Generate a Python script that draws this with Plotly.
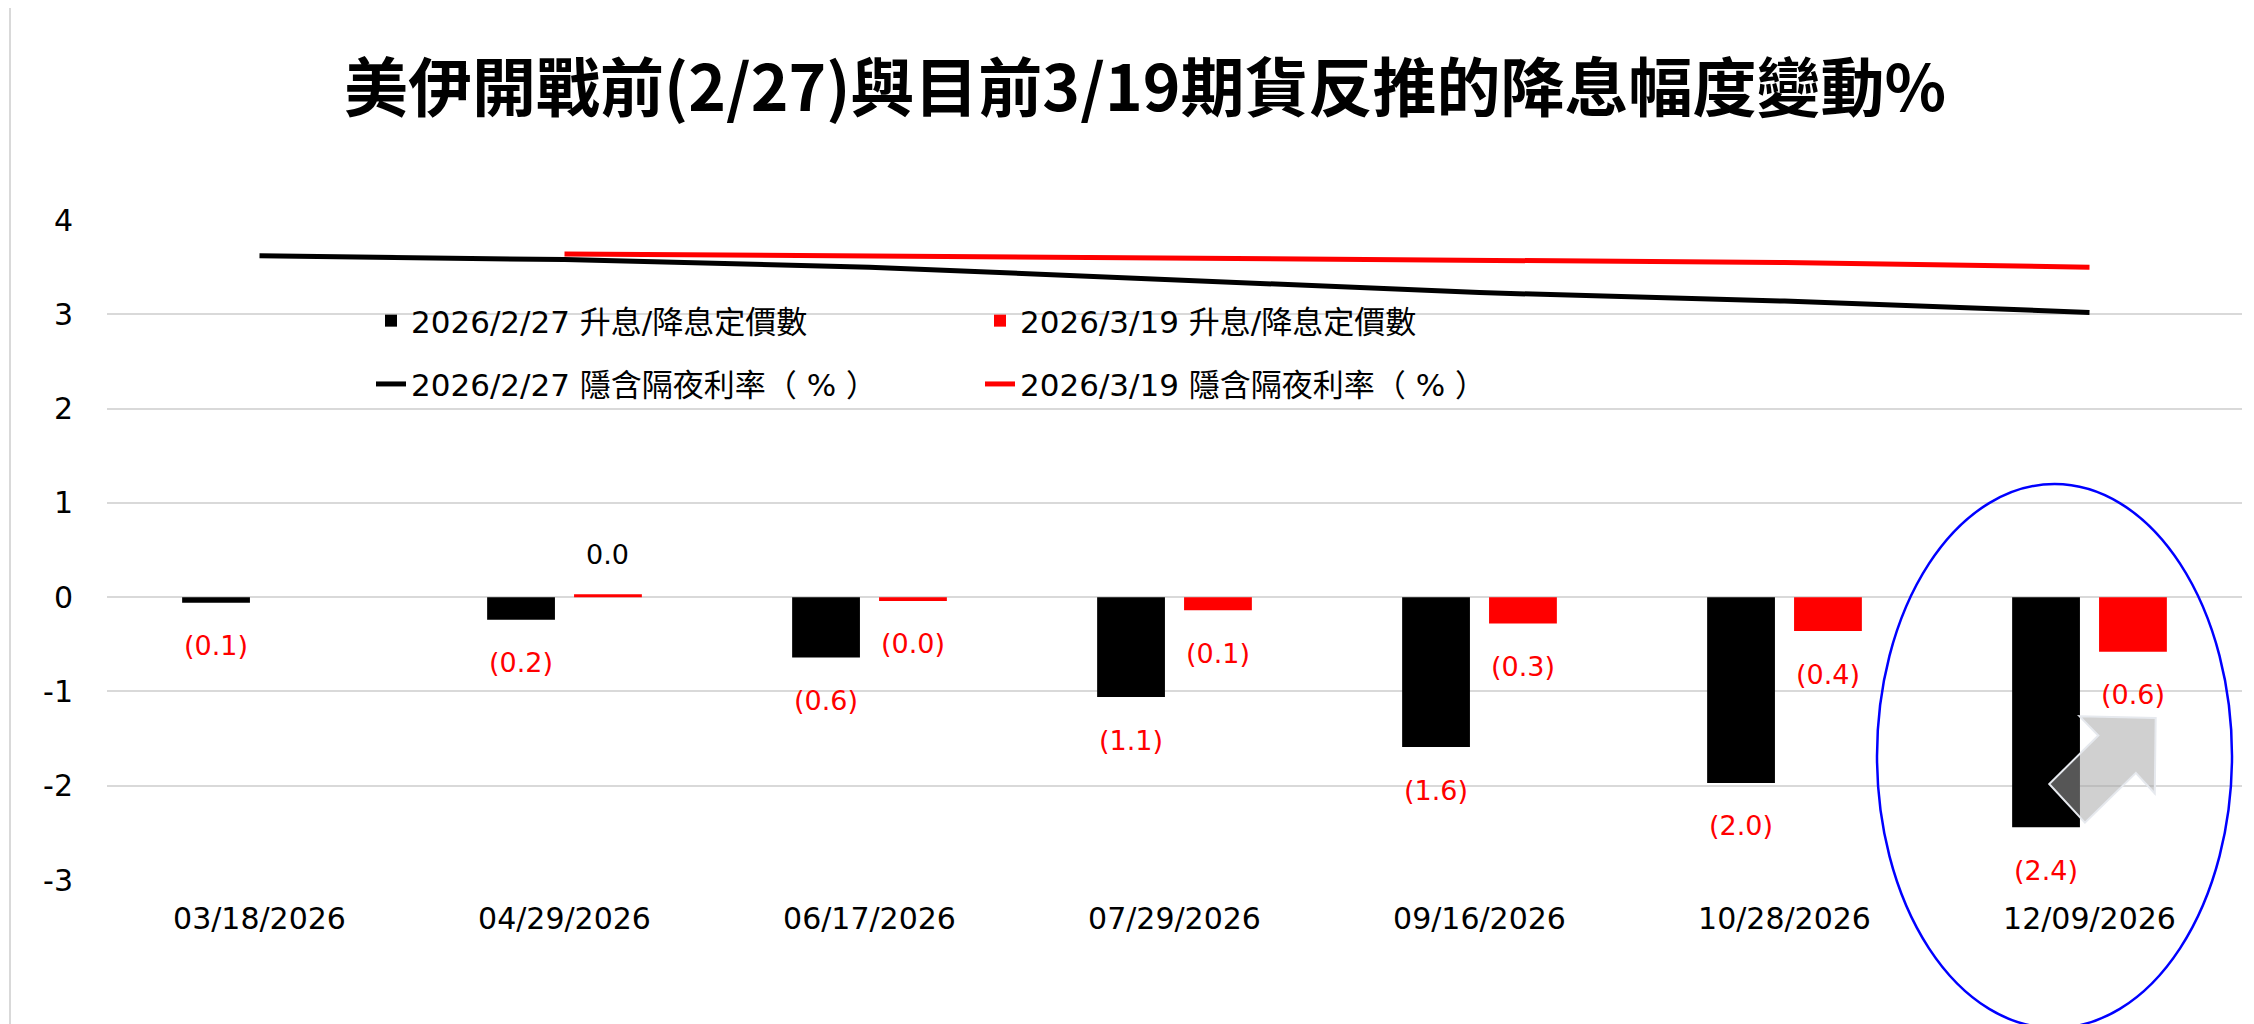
import plotly.graph_objects as go

# ---------------- data ----------------
categories = ["03/18/2026", "04/29/2026", "06/17/2026", "07/29/2026",
              "09/16/2026", "10/28/2026", "12/09/2026"]
bars_0227 = [-0.06, -0.24, -0.64, -1.06, -1.59, -1.97, -2.44]
bars_0319 = [None, 0.03, -0.04, -0.14, -0.28, -0.36, -0.58]
rate_0227 = [3.62, 3.58, 3.50, 3.37, 3.23, 3.14, 3.02]
rate_0319 = [None, 3.64, 3.62, 3.60, 3.57, 3.55, 3.50]
y_tick_vals = [4, 3, 2, 1, 0, -1, -2, -3]
y_tick_labels = ["4", "3", "2", "1", "0", "-1", "-2", "-3"]

title_text = "美伊開戰前(2/27)與目前3/19期貨反推的降息幅度變動%"
name_bar_0227 = "2026/2/27 升息/降息定價數"
name_bar_0319 = "2026/3/19 升息/降息定價數"
name_line_0227 = "2026/2/27 隱含隔夜利率（ % ）"
name_line_0319 = "2026/3/19 隱含隔夜利率（ % ）"

# ---------------- style ----------------
W, H = 2254, 1024
OFF = 8                      # default page body margin of the html page
ML, MR, MT, MB = 99, 20, 212, 152
PW = W - ML - MR
PH = H - MT - MB
FONT = "DejaVu Sans, Noto Sans CJK TC, sans-serif"
BARGAP = 0.43
BARGROUPGAP = 0.22
GRID = "#d9d9d9"


def sx(px):
    """screen x pixel -> paper fraction"""
    return (px - OFF - ML) / PW


def sy(py):
    """screen y pixel -> paper fraction"""
    return (H - MB - (py - OFF)) / PH


fig = go.Figure()
fig.add_trace(go.Bar(x=categories, y=bars_0227, name=name_bar_0227,
                     marker=dict(color="#000000", line=dict(width=0)),
                     legend="legend", legendgroup="g1"))
fig.add_trace(go.Bar(x=categories, y=bars_0319, name=name_bar_0319,
                     marker=dict(color="#ff0000", line=dict(width=0)),
                     legend="legend2", legendgroup="g2"))
fig.add_trace(go.Scatter(x=categories, y=rate_0227, name=name_line_0227,
                         mode="lines", line=dict(color="#000000", width=5),
                         legend="legend", legendgroup="g3"))
fig.add_trace(go.Scatter(x=categories, y=rate_0319, name=name_line_0319,
                         mode="lines", line=dict(color="#ff0000", width=5),
                         legend="legend2", legendgroup="g4"))

# data labels (positioned at the grouped bar centres)
off = (1 - BARGAP) / 4
annotations = []


def fmt(v):
    return f"({abs(v):.1f})" if v < 0 else f"{v:.1f}"


for series, sign in ((bars_0227, -1), (bars_0319, 1)):
    for i, v in enumerate(series):
        if v is None:
            continue
        annotations.append(dict(
            x=i + sign * off, y=v, xref="x", yref="y", text=fmt(v),
            showarrow=False, yshift=(-43 if v < 0 else 40),
            font=dict(family=FONT, size=27,
                      color="#ff0000" if v < 0 else "#000000")))

shapes = [
    # chart-area border on the left
    dict(type="line", xref="paper", yref="paper",
         x0=sx(10), x1=sx(10), y0=-0.5, y1=1.6,
         line=dict(color=GRID, width=2), layer="below"),
    # blue highlight ellipse
    dict(type="circle", xref="paper", yref="paper",
         x0=sx(1877), x1=sx(2232), y0=sy(1028), y1=sy(484),
         line=dict(color="#0000ff", width=2.5), fillcolor="rgba(0,0,0,0)",
         layer="above"),
    # grey up-right block arrow
    dict(type="path", xref="x", yref="y",
         path=("M5.967,-1.262 L6.217,-1.281 L6.214,-2.082 L6.152,-1.864 "
               "L5.985,-2.392 L5.868,-1.981 L6.029,-1.468 Z"),
         fillcolor="rgba(164,164,164,0.52)",
         line=dict(color="#e6e9ee", width=2), layer="above"),
]

fig.update_layout(
    width=W, height=H,
    margin=dict(l=ML, r=MR, t=MT, b=MB),
    paper_bgcolor="white", plot_bgcolor="white",
    font=dict(family=FONT, color="#000000", size=30),
    barmode="group", bargap=BARGAP, bargroupgap=BARGROUPGAP,
    title=dict(text=title_text, x=(1145 - OFF) / W, xanchor="center",
               xref="container",
               y=1 - (89 - OFF) / H, yanchor="middle", yref="container",
               font=dict(family="Noto Sans CJK TC, sans-serif", size=64,
                         color="#000000", weight=700)),
    xaxis=dict(type="category", showgrid=False, showline=False, zeroline=False,
               ticks="", tickfont=dict(size=30, family=FONT),
               ticklabelstandoff=18),
    yaxis=dict(range=[-3, 4], tickvals=y_tick_vals, ticktext=y_tick_labels,
               showgrid=True, gridcolor=GRID, gridwidth=2, zeroline=False,
               showline=False, ticks="", tickfont=dict(size=30, family=FONT),
               ticklabelstandoff=33),
    legend=dict(x=sx(371), y=sy(294), xanchor="left",
                yanchor="top", bgcolor="rgba(0,0,0,0)",
                font=dict(size=31, family=FONT), tracegroupgap=20),
    legend2=dict(x=sx(980), y=sy(294), xanchor="left",
                 yanchor="top", bgcolor="rgba(0,0,0,0)",
                 font=dict(size=31, family=FONT), tracegroupgap=20),
    annotations=annotations,
    shapes=shapes,
    showlegend=True,
)

fig.write_html("out.html")
